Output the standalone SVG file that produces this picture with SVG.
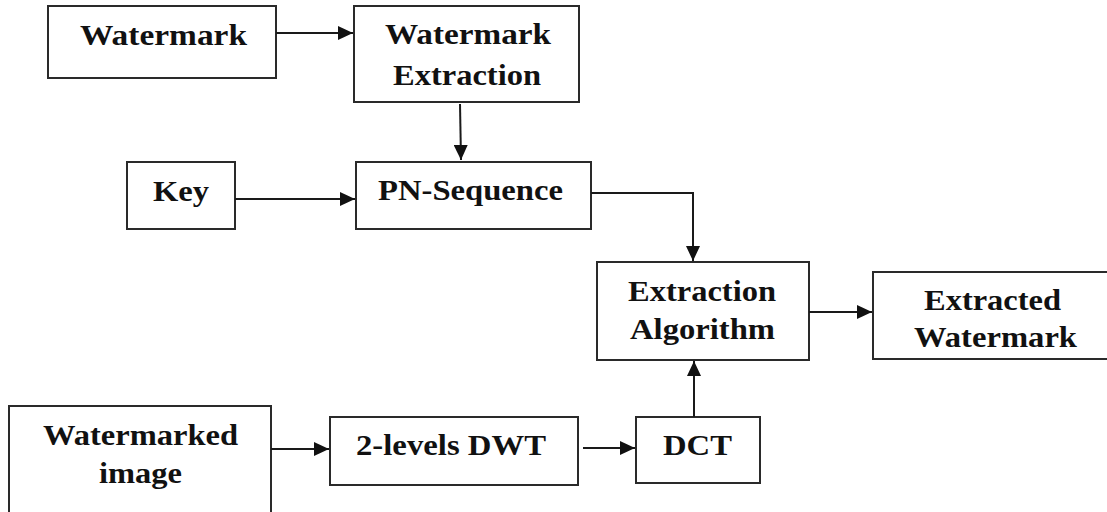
<svg xmlns="http://www.w3.org/2000/svg" width="1107" height="512" viewBox="0 0 1107 512">
<style>
.box{fill:#fff;stroke:#2a2a2a;stroke-width:2}
.lbl{font-family:'Liberation Serif','Times New Roman',serif;font-weight:700;font-size:30px;fill:#111;text-anchor:middle}
.edge{fill:none;stroke:#1a1a1a;stroke-width:2}
</style>
<defs>
<marker id="arr" markerUnits="userSpaceOnUse" markerWidth="16" markerHeight="14" refX="15" refY="7" orient="auto">
<path d="M0,0 L15,7 L0,14 z" fill="#111"/>
</marker>
</defs>
<rect width="1107" height="512" fill="#fff"/>
<g id="n-watermark">
<rect class="box" x="48" y="6" width="228" height="72"/>
<text class="lbl" x="163.5" y="45" textLength="167" lengthAdjust="spacingAndGlyphs">Watermark</text>
</g>
<g id="n-wm-extraction">
<rect class="box" x="354" y="6" width="225" height="96"/>
<text class="lbl" x="468" y="44" textLength="166" lengthAdjust="spacingAndGlyphs">Watermark</text>
<text class="lbl" x="467" y="85" textLength="148" lengthAdjust="spacingAndGlyphs">Extraction</text>
</g>
<g id="n-key">
<rect class="box" x="127" y="162" width="108" height="67"/>
<text class="lbl" x="181" y="201" textLength="56" lengthAdjust="spacingAndGlyphs">Key</text>
</g>
<g id="n-pn">
<rect class="box" x="356" y="162" width="235" height="67"/>
<text class="lbl" x="470.5" y="200" textLength="185" lengthAdjust="spacingAndGlyphs">PN-Sequence</text>
</g>
<g id="n-ext-alg">
<rect class="box" x="597" y="262" width="212" height="98"/>
<text class="lbl" x="702" y="301" textLength="148" lengthAdjust="spacingAndGlyphs">Extraction</text>
<text class="lbl" x="702.5" y="339" textLength="145" lengthAdjust="spacingAndGlyphs">Algorithm</text>
</g>
<g id="n-extracted">
<rect class="box" x="873" y="272" width="240" height="87"/>
<text class="lbl" x="992.5" y="310" textLength="137" lengthAdjust="spacingAndGlyphs">Extracted</text>
<text class="lbl" x="995.5" y="347" textLength="163" lengthAdjust="spacingAndGlyphs">Watermark</text>
</g>
<g id="n-wm-image">
<rect class="box" x="9" y="406" width="262" height="120"/>
<text class="lbl" x="140.5" y="445" textLength="195" lengthAdjust="spacingAndGlyphs">Watermarked</text>
<text class="lbl" x="140.5" y="483" textLength="83" lengthAdjust="spacingAndGlyphs">image</text>
</g>
<g id="n-dwt">
<rect class="box" x="330" y="417" width="248" height="68"/>
<text class="lbl" x="451" y="455" textLength="190" lengthAdjust="spacingAndGlyphs">2-levels DWT</text>
</g>
<g id="n-dct">
<rect class="box" x="636" y="417" width="124" height="66"/>
<text class="lbl" x="697.5" y="455" textLength="69" lengthAdjust="spacingAndGlyphs">DCT</text>
</g>
<g id="connectors">
<path class="edge" d="M276,33 H353" marker-end="url(#arr)"/>
<path class="edge" d="M460,104 L461,160" marker-end="url(#arr)"/>
<path class="edge" d="M235,199 H355" marker-end="url(#arr)"/>
<path class="edge" d="M591,193 H693 V261" marker-end="url(#arr)"/>
<path class="edge" d="M809,312 H872" marker-end="url(#arr)"/>
<path class="edge" d="M271,449 H329" marker-end="url(#arr)"/>
<path class="edge" d="M583,448 H635" marker-end="url(#arr)"/>
<path class="edge" d="M694,417 V361" marker-end="url(#arr)"/>
</g>
</svg>
